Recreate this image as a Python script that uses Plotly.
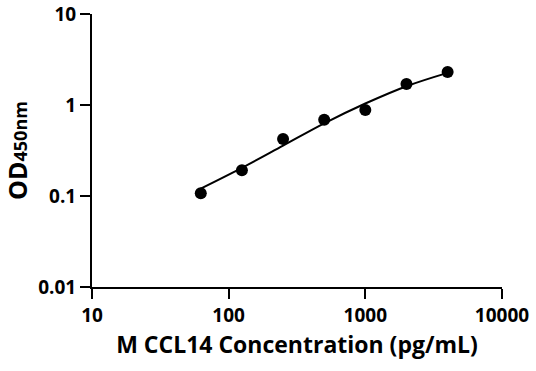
import plotly.graph_objects as go

conc = [62.5, 125, 250, 500, 1000, 2000, 4000]
od = [0.107, 0.192, 0.424, 0.687, 0.882, 1.70, 2.30]

fit_x = [62.5, 125, 250, 500, 1000, 2000, 4000]
fit_y = [0.1207, 0.204, 0.358, 0.629, 1.038, 1.609, 2.256]

x_ticks = [10, 100, 1000, 10000]
x_tick_labels = ["10", "100", "1000", "10000"]
y_ticks = [0.01, 0.1, 1, 10]
y_tick_labels = ["0.01", "0.1", "1", "10"]

FONT = "Open Sans"

fig = go.Figure()
fig.add_trace(go.Scatter(x=fit_x, y=fit_y, mode="lines", line=dict(color="black", width=2, shape="spline"),
                         showlegend=False, hoverinfo="skip"))
fig.add_trace(go.Scatter(x=conc, y=od, mode="markers", marker=dict(color="black", size=12),
                         showlegend=False))

axis_common = dict(showgrid=False, zeroline=False, showline=True, linecolor="black", linewidth=2,
                   ticks="outside", ticklen=10, tickwidth=2, tickcolor="black", automargin=False,
                   ticklabeloverflow="allow",
                   tickfont=dict(family=FONT, size=19, color="black", weight="bold"))

fig.update_xaxes(type="log", range=[1, 4], tickvals=x_ticks, ticktext=x_tick_labels,
                 title=dict(text="M CCL14 Concentration (pg/mL)",
                            font=dict(family=FONT, size=23, color="black", weight="bold"), standoff=7),
                 **axis_common)
fig.update_yaxes(type="log", range=[-2, 1], tickvals=y_ticks, ticktext=y_tick_labels,
                 title=dict(text='OD<span style="font-size:18px">450nm</span>',
                            font=dict(family=FONT, size=25, color="black", weight="bold"), standoff=18),
                 **axis_common)

fig.update_layout(width=536, height=371, margin=dict(l=92, r=34, t=14, b=84),
                  plot_bgcolor="white", paper_bgcolor="white")

fig.write_html("out.html", config={"displayModeBar": False},
               post_script="document.body.style.margin='0';")
